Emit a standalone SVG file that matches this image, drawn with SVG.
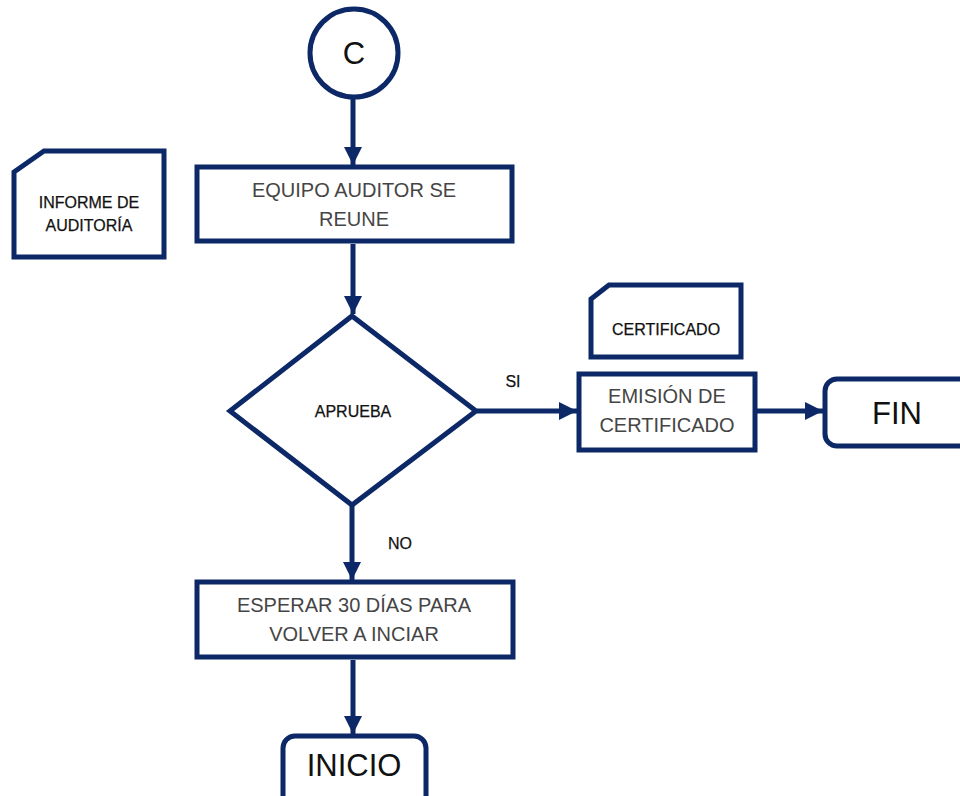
<svg xmlns="http://www.w3.org/2000/svg" width="960" height="796" viewBox="0 0 960 796">
<defs>
<style>
.s{fill:#fff;stroke:#0c2867;stroke-width:5}
.c{fill:none;stroke:#0c2867;stroke-width:5}
.p{font-family:"Liberation Sans",Arial,sans-serif;font-size:20px;fill:#454545;text-anchor:middle}
.d{font-family:"Liberation Sans",Arial,sans-serif;font-size:16px;fill:#111;text-anchor:middle;stroke:#111;stroke-width:0.25}
.b{font-family:"Liberation Sans",Arial,sans-serif;font-size:31px;fill:#111;text-anchor:middle}
.l{font-family:"Liberation Sans",Arial,sans-serif;font-size:16px;fill:#111;text-anchor:middle;stroke:#111;stroke-width:0.25}
</style>
<marker id="ah" markerUnits="userSpaceOnUse" markerWidth="20" markerHeight="18" refX="18" refY="9" orient="auto">
<path d="M0,0 L18,9 L0,18 Z" fill="#0c2867"/>
</marker>
</defs>
<rect width="960" height="796" fill="#fff"/>
<g id="connectors">
<line class="c" x1="353" y1="99" x2="353" y2="165" marker-end="url(#ah)"/>
<line class="c" x1="353" y1="244" x2="353" y2="314" marker-end="url(#ah)"/>
<line class="c" x1="477" y1="411" x2="577" y2="411" marker-end="url(#ah)"/>
<line class="c" x1="757" y1="411" x2="823" y2="411" marker-end="url(#ah)"/>
<line class="c" x1="352" y1="506" x2="352" y2="580" marker-end="url(#ah)"/>
<line class="c" x1="353" y1="660" x2="353" y2="734" marker-end="url(#ah)"/>
</g>
<g id="start">
<circle class="s" cx="354" cy="53" r="44"/>
<text class="b" x="354" y="64">C</text>
</g>
<g id="informe">
<path class="s" d="M14,172 L44,151 L164,151 L164,257 L14,257 Z"/>
<text class="d" x="89" y="208">INFORME DE</text>
<text class="d" x="89" y="231">AUDITORÍA</text>
</g>
<g id="equipo">
<rect class="s" x="197" y="167" width="315" height="74"/>
<text class="p" x="354" y="197">EQUIPO AUDITOR SE</text>
<text class="p" x="354" y="226">REUNE</text>
</g>
<g id="aprueba">
<path class="s" d="M352,316 L476,411 L352,505 L230,411 Z"/>
<text class="d" x="353" y="417">APRUEBA</text>
</g>
<g id="certificado-doc">
<path class="s" d="M591,299 L609,285 L741,285 L741,357 L591,357 Z"/>
<text class="d" x="666" y="335">CERTIFICADO</text>
</g>
<g id="emision">
<rect class="s" x="579" y="374" width="176" height="76"/>
<text class="p" x="667" y="403">EMISIÓN DE</text>
<text class="p" x="667" y="432">CERTIFICADO</text>
</g>
<g id="fin">
<rect class="s" x="825" y="379" width="150" height="67" rx="12"/>
<text class="b" x="897" y="424">FIN</text>
</g>
<g id="esperar">
<rect class="s" x="197" y="582" width="316" height="75"/>
<text class="p" x="354" y="612">ESPERAR 30 DÍAS PARA</text>
<text class="p" x="354" y="641">VOLVER A INCIAR</text>
</g>
<g id="inicio">
<rect class="s" x="283" y="736" width="143" height="75" rx="12"/>
<text class="b" x="354" y="776">INICIO</text>
</g>
<g id="labels">
<text class="l" x="513" y="387">SI</text>
<text class="l" x="400" y="549">NO</text>
</g>
</svg>
